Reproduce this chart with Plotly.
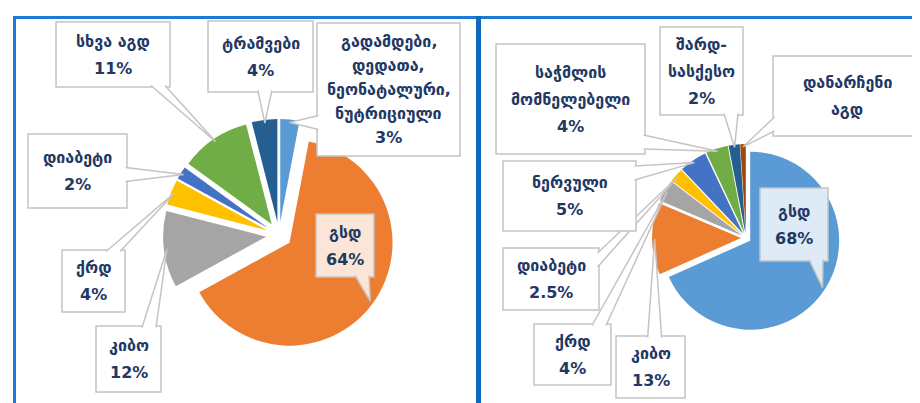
import numpy as np
import plotly.graph_objects as go

W, H = 920, 403

# left chart: shares of the burden, %
left_names = ["გადამდები,<br>დედათა,<br>ნეონატალური,<br>ნუტრიციული", "გსდ", "კიბო", "ქრდ",
              "დიაბეტი", "სხვა აგდ", "ტრამვები"]
left_values = [3, 64, 12, 4, 2, 11, 4]
left_show_pct = [True] * 7
left_colors = ["#5B9BD5", "#ED7D31", "#A5A5A5", "#FFC000", "#4472C4", "#70AD47", "#255E91"]

# right chart
right_names = ["გსდ", "კიბო", "ქრდ", "დიაბეტი", "ნერვული", "საჭმლის<br>მომნელებელი",
               "შარდ-<br>სასქესო", "დანარჩენი<br>აგდ"]
right_values = [68, 13, 4, 2.5, 5, 4, 2, 1]
right_show_pct = [True] * 7 + [False]
right_colors = ["#5B9BD5", "#ED7D31", "#A5A5A5", "#FFC000", "#4472C4", "#70AD47", "#255E91", "#9E480E"]

TEXT_COLOR = "#1F3864"
FONT = "DejaVu Sans"
BOX_LINE = "#C4C4C4"


def add_pie(fig, values, colors, cx, cy, r, pull_px):
    """Place a pie so that its centre and radius land on given pixel values."""
    pull = pull_px / r
    box = 2 * r * (1 + pull)
    fig.add_trace(go.Pie(values=values, marker=dict(colors=colors, line=dict(width=0)),
                         sort=False, direction="clockwise", rotation=0,
                         pull=[pull] * len(values), textinfo="none", hoverinfo="skip",
                         showlegend=False,
                         domain=dict(x=[(cx - box / 2) / W, (cx + box / 2) / W],
                                     y=[1 - (cy + box / 2) / H, 1 - (cy - box / 2) / H])))
    # tip points for the callouts, from the slice mid-angles
    v = np.array(values, dtype=float)
    mids = (np.cumsum(v) - v / 2) / v.sum() * 2 * np.pi
    d = pull_px + 0.97 * r
    return [(cx + d * np.sin(a), cy - d * np.cos(a)) for a in mids]


def add_callout(fig, box, tip, lines, fill="white", spacing=27):
    x0, y0, x1, y1 = box
    tx, ty = tip
    fig.add_shape(type="rect", x0=x0, y0=y0, x1=x1, y1=y1, xref="x", yref="y",
                  line=dict(color=BOX_LINE, width=1.5), fillcolor=fill, layer="above")
    dx = max(x0 - tx, tx - x1, 0)
    dy = max(y0 - ty, ty - y1, 0)
    hw = 7
    if dx > dy:
        ex = x0 + 1.5 if tx < x0 else x1 - 1.5
        by = min(max(ty, y0 + 12), y1 - 12)
        b1, b2 = (ex, by - hw), (ex, by + hw)
    else:
        ey = y0 + 1.5 if ty < y0 else y1 - 1.5
        bx = min(max(tx, x0 + 12), x1 - 12)
        b1, b2 = (bx - hw, ey), (bx + hw, ey)
    fig.add_shape(type="path", xref="x", yref="y", layer="above",
                  path=f"M {b1[0]},{b1[1]} L {tx},{ty} L {b2[0]},{b2[1]}",
                  line=dict(color=BOX_LINE, width=1.5), fillcolor=fill)
    mx, my = (x0 + x1) / 2, (y0 + y1) / 2
    n = len(lines)
    for i, t in enumerate(lines):
        fig.add_annotation(x=mx, y=my + (i - (n - 1) / 2) * spacing, xref="x", yref="y",
                           text=t, showarrow=False,
                           font=dict(family=FONT, size=16, color=TEXT_COLOR, weight="bold"))


def label_lines(name, value, show):
    lines = name.split("<br>")
    if show:
        lines.append(f"{value:g}%")
    return lines


fig = go.Figure()

left_tips = add_pie(fig, left_values, left_colors, 271, 227, 103, 13)
right_tips = add_pie(fig, right_values, right_colors, 738, 230, 89, 5)

# label boxes (pixel layout)
left_boxes = [(309, 15, 452, 148), (308, 206, 366, 269), (88, 318, 153, 384), (54, 242, 117, 304),
              (20, 126, 119, 200), (48, 14, 162, 79), (200, 13, 305, 84)]
right_boxes = [(752, 180, 820, 253), (608, 328, 677, 390), (526, 316, 603, 377), (495, 240, 591, 302),
               (495, 153, 628, 223), (488, 36, 637, 146), (652, 19, 735, 107), (765, 48, 913, 128)]

for i, (n, v, s) in enumerate(zip(left_names, left_values, left_show_pct)):
    add_callout(fig, left_boxes[i], left_tips[i], label_lines(n, v, s),
                fill="#FBE5D6" if i == 1 else "white", spacing=24 if i == 0 else 27)
for i, (n, v, s) in enumerate(zip(right_names, right_values, right_show_pct)):
    add_callout(fig, right_boxes[i], right_tips[i], label_lines(n, v, s),
                fill="#DEEBF7" if i == 0 else "white")

# panel frames
frame = "#1A7AD4"
fig.add_shape(type="line", x0=5, x1=W, y0=9.5, y1=9.5, xref="x", yref="y",
              line=dict(color=frame, width=3), layer="above")
fig.add_shape(type="line", x0=6.5, x1=6.5, y0=8, y1=H, xref="x", yref="y",
              line=dict(color=frame, width=3), layer="above")
fig.add_shape(type="line", x0=470.5, x1=470.5, y0=8, y1=H, xref="x", yref="y",
              line=dict(color="#0B6BBF", width=5), layer="above")

fig.update_layout(width=W, height=H, margin=dict(l=0, r=0, t=0, b=0),
                  paper_bgcolor="white", plot_bgcolor="white",
                  xaxis=dict(range=[0, W], visible=False, fixedrange=True),
                  yaxis=dict(range=[H, 0], visible=False, fixedrange=True))

fig.write_html("out.html")
